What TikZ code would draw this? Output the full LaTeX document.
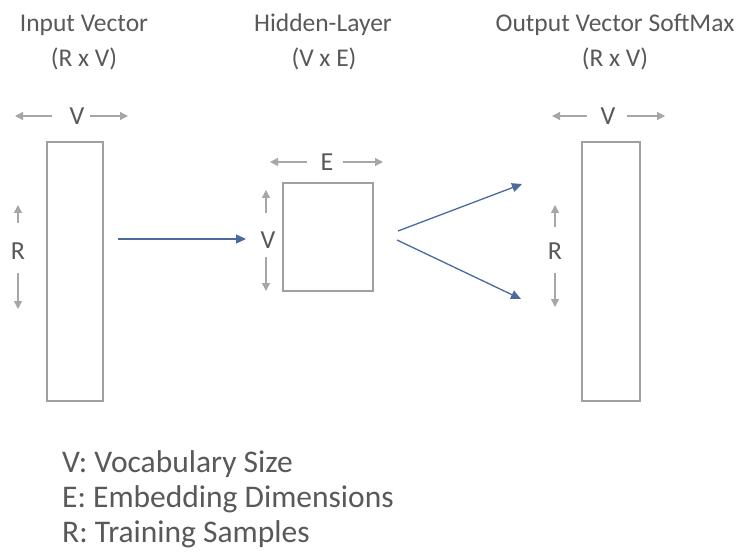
\documentclass[tikz,border=0pt]{standalone}
\usepackage{fontspec}
\setmainfont{Carlito}
\usetikzlibrary{arrows.meta}
\definecolor{txt}{HTML}{595959}
\definecolor{boxc}{HTML}{A0A0A0}
\definecolor{garr}{HTML}{A6A6A6}
\definecolor{barr}{HTML}{4A6A9E}
\begin{document}
\begin{tikzpicture}[x=1pt,y=-1pt,
  title/.style={text=txt,font=\fontsize{25.5}{30}\selectfont,inner sep=0pt,anchor=base},
  dimlab/.style={text=txt,font=\fontsize{26}{30}\selectfont,inner sep=0pt},
  legend/.style={text=txt,font=\fontsize{31.5}{34}\selectfont,inner sep=0pt,anchor=base west},
  mat/.style={draw=boxc,line width=1.8pt,inner sep=0pt},
  garrow/.style={draw=garr,line width=1.2pt,-{Triangle[length=8pt,width=8pt]}},
  barrow/.style={draw=barr,line width=1.3pt,-{Triangle[length=10pt,width=9pt]}}]
\useasboundingbox (0,0) rectangle (747,556);
\fill[white] (0,0) rectangle (747,556);
% titles
\node[title] (t1) at (84,32) {Input Vector};
\node[title] (t1b) at (84,67) {(R x V)};
\node[title] (t2) at (323,32) {Hidden-Layer};
\node[title] (t2b) at (324,67) {(V x E)};
\node[title] (t3) at (615,32) {Output Vector SoftMax};
\node[title] (t3b) at (615,67) {(R x V)};
% matrices
\draw[mat] (47,142) rectangle (103,401);
\draw[mat] (283,183) rectangle (373,291);
\draw[mat] (582,142) rectangle (640,401);
% input dims
\node[dimlab] (v1) at (77,116) {V};
\coordinate (v1l) at (15,116); \coordinate (v1r) at (128,116);
\draw[garrow] (52,116) -- (v1l);
\draw[garrow] (90,116) -- (v1r);
\node[dimlab] (r1) at (18,251) {R};
\coordinate (r1u) at (18,205); \coordinate (r1d) at (18,309);
\draw[garrow] (18,223) -- (r1u);
\draw[garrow] (18,273) -- (r1d);
% hidden dims
\node[dimlab] (e2) at (327,162) {E};
\coordinate (e2l) at (270,162); \coordinate (e2r) at (383,162);
\draw[garrow] (307,162) -- (e2l);
\draw[garrow] (343,162) -- (e2r);
\node[dimlab] (v2) at (268,240) {V};
\coordinate (v2u) at (266,190); \coordinate (v2d) at (266,291);
\draw[garrow] (266,213) -- (v2u);
\draw[garrow] (266,257) -- (v2d);
% output dims
\node[dimlab] (v3) at (608,116) {V};
\coordinate (v3l) at (552,116); \coordinate (v3r) at (665,116);
\draw[garrow] (587,116) -- (v3l);
\draw[garrow] (627,116) -- (v3r);
\node[dimlab] (r3) at (555,251) {R};
\coordinate (r3u) at (555,205); \coordinate (r3d) at (555,307);
\draw[garrow] (555,227) -- (r3u);
\draw[garrow] (555,273) -- (r3d);
% blue flow arrows
\coordinate (a0) at (118,239); \coordinate (a1) at (246,239);
\draw[barrow] (a0) -- (a1);
\coordinate (b0) at (398,231); \coordinate (b1) at (522,184);
\coordinate (c0) at (397,240); \coordinate (c1) at (521,299);
\draw[barrow] (b0) -- (b1);
\draw[barrow] (c0) -- (c1);
% legend
\node[legend] (l1) at (62,472) {V: Vocabulary Size};
\node[legend] (l2) at (62,507) {E: Embedding Dimensions};
\node[legend] (l3) at (62,542) {R: Training Samples};
\end{tikzpicture}
\end{document}
